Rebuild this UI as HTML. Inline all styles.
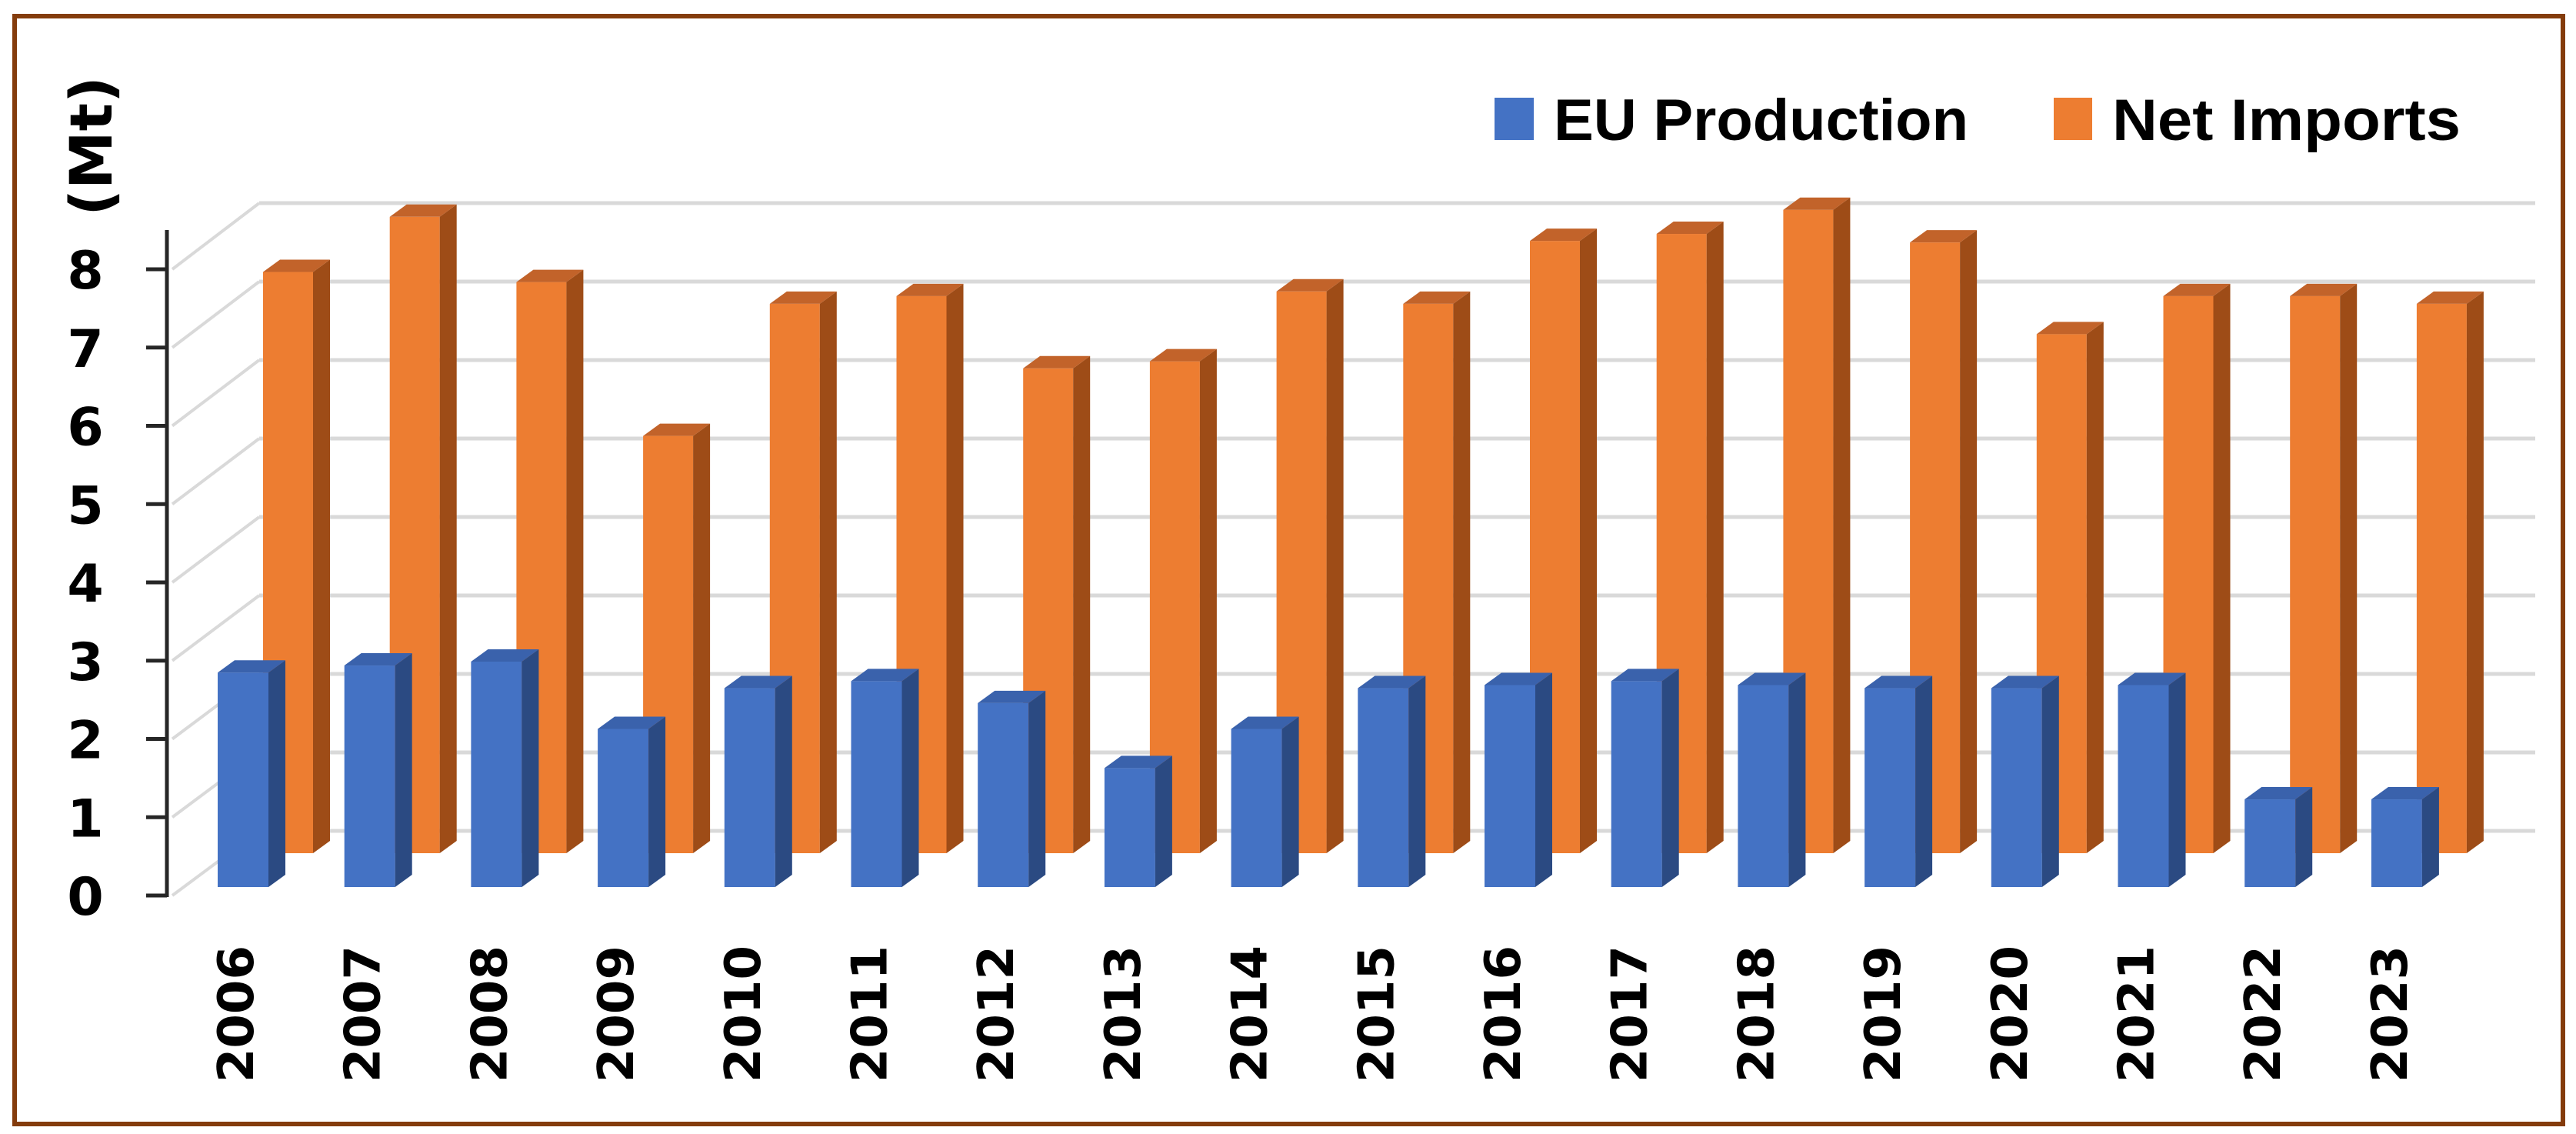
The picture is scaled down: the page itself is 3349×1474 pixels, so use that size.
<!DOCTYPE html>
<html><head><meta charset="utf-8"><style>
html,body{margin:0;padding:0;background:#fff;}
svg{display:block;}
</style></head><body>
<svg id="chart" width="3349" height="1474" viewBox="0 0 3349 1474" xmlns="http://www.w3.org/2000/svg">
<rect x="19" y="21" width="3313" height="1440" fill="#fff" stroke="#843C0C" stroke-width="6"/>
<g id="grid"></g>
<g id="bars"></g>
<g id="axis"></g>
<g id="xlabels"></g>
<text x="0" y="0" transform="translate(145,190) rotate(-90)" text-anchor="middle" font-family="DejaVu Sans, Liberation Sans, sans-serif" font-weight="bold" font-size="76" fill="#000">(Mt)</text>
<g>
<rect x="1943" y="127" width="51" height="55" fill="#4472C4"/>
<text x="2020" y="182" font-family="Liberation Sans, sans-serif" font-weight="bold" font-size="76" textLength="539" lengthAdjust="spacingAndGlyphs" fill="#000">EU Production</text>
<rect x="2670" y="127" width="50" height="55" fill="#ED7D31"/>
<text x="2746" y="182" font-family="Liberation Sans, sans-serif" font-weight="bold" font-size="76" textLength="453" lengthAdjust="spacingAndGlyphs" fill="#000">Net Imports</text>
</g>
</svg>
<script>
const years = ['2006','2007','2008','2009','2010','2011','2012','2013','2014','2015','2016','2017','2018','2019','2020','2021','2022','2023'];
const euProduction = [2.74,2.83,2.88,2.02,2.54,2.63,2.35,1.52,2.02,2.54,2.58,2.63,2.58,2.54,2.54,2.58,1.12,1.12];
const netImports = [7.48,8.19,7.35,5.37,7.07,7.17,6.24,6.33,7.23,7.07,7.88,7.97,8.28,7.86,6.68,7.17,7.17,7.07];
const yTicks = [0,1,2,3,4,5,6,7,8];

const NS = 'http://www.w3.org/2000/svg';
function mk(tag, attrs, parent){const e=document.createElementNS(NS,tag);for(const k in attrs)e.setAttribute(k,attrs[k]);parent.appendChild(e);return e;}
const step = 164.7;
const xBlue = i => 283 + i*step;
const xOrange = i => 342 + i*step;
const yFront = v => 1164 - v*101.75;
const yBack = v => 1080 - v*102;
const yBlue = v => 1153 - v*101.75;
const yOrange = v => 1109 - v*101;

const grid = document.getElementById('grid');
yTicks.forEach(v=>{
  const l = mk('line',{x1:337,x2:3296,y1:yBack(v),y2:yBack(v),stroke:'#D9D9D9','stroke-width':5},grid);
  
  
  const d = mk('line',{x1:224,y1:yFront(v),x2:337,y2:yBack(v),stroke:'#D9D9D9','stroke-width':4},grid);
  
  
});

const bars = document.getElementById('bars');
function bar3d(x, top, base, w, cols, name){
  const g = mk('g',{},bars);
  
  
  const d=22, dy=16;
  mk('rect',{x:x,y:top,width:w,height:base-top,fill:cols[0]},g);
  mk('polygon',{points:`${x+w},${top} ${x+w+d},${top-dy} ${x+w+d},${base-dy} ${x+w},${base}`,fill:cols[1]},g);
  mk('polygon',{points:`${x},${top} ${x+w},${top} ${x+w+d},${top-dy} ${x+d},${top-dy}`,fill:cols[2]},g);
}
netImports.forEach((v,i)=>bar3d(xOrange(i), yOrange(v), yOrange(0), 65, ['#ED7D31','#9E4C17','#C2632A'], 'bar-net-imports-'+years[i]));
euProduction.forEach((v,i)=>bar3d(xBlue(i), yBlue(v), yBlue(0), 66, ['#4472C4','#2B4A82','#3A62AC'], 'bar-eu-production-'+years[i]));

const axis = document.getElementById('axis');
mk('line',{x1:217,x2:217,y1:299,y2:1166,stroke:'#262626','stroke-width':5},axis);
yTicks.forEach(v=>{
  const t = mk('line',{x1:190,x2:217,y1:yFront(v),y2:yFront(v),stroke:'#262626','stroke-width':5},axis);
  
  
  const lb = mk('text',{x:111,y:yFront(v)+25,'text-anchor':'middle','font-family':'DejaVu Sans, Liberation Sans, sans-serif','font-weight':'bold','font-size':68,fill:'#000'},axis);
  lb.textContent = String(v);
  
  
});

const xl = document.getElementById('xlabels');
years.forEach((y,i)=>{
  const cx = xBlue(i)+23;
  const t = mk('text',{x:0,y:0,transform:`translate(${cx+23},1229) rotate(-90)`,'text-anchor':'end','font-family':'DejaVu Sans, Liberation Sans, sans-serif','font-weight':'bold','font-size':64,fill:'#000'},xl);
  t.textContent = y;
  
  
});
</script>
</body></html>
